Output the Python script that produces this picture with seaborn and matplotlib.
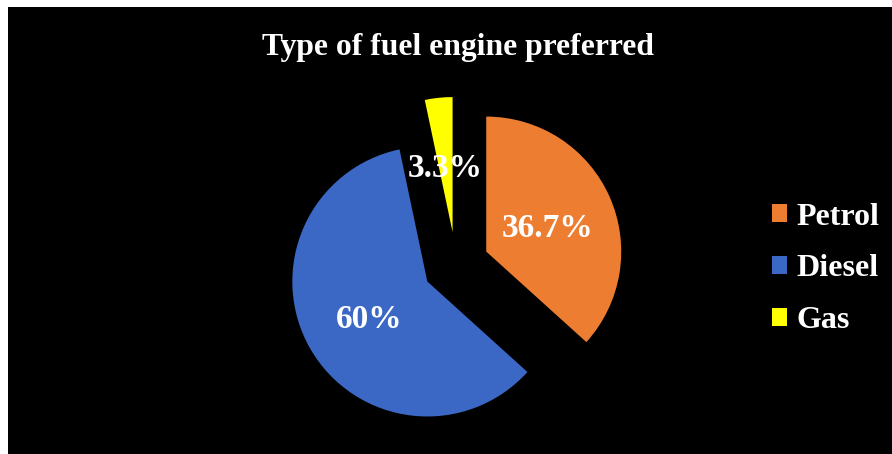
import matplotlib
matplotlib.use("Agg")
import matplotlib.pyplot as plt
from matplotlib.patches import Rectangle, Patch
from matplotlib.transforms import offset_copy
import seaborn as sns

categories = ["Petrol", "Diesel", "Gas"]
values = [36.7, 60, 3.3]
pct_labels = ["36.7%", "60%", "3.3%"]
title = "Type of fuel engine preferred"
colors = ["#ED7D31", "#3A68C4", "#FFFF00"]

sns.set_theme(style="white")
plt.rcParams["font.family"] = ["Liberation Serif", "DejaVu Serif"]

W, H = 892, 454
fig = plt.figure(figsize=(W / 100, H / 100), dpi=100)
fig.patch.set_facecolor("white")
bg = Rectangle((8 / W, 0), (W - 8) / W, (H - 7) / H,
               transform=fig.transFigure, facecolor="black",
               edgecolor="none", zorder=-10)
fig.patches.append(bg)

cx, cy, r = 456, 265, 135
half = r * 1.5
ax = fig.add_axes([(cx - half) / W, (H - cy - half) / H, 2 * half / W, 2 * half / H])
ax.set_facecolor("none")
ax.set_zorder(5)

wedges, texts, autotexts = ax.pie(
    values, colors=colors, startangle=90, counterclock=False,
    explode=[0.245] * len(values), radius=1.0,
    autopct="%1.1f%%", pctdistance=0.5,
    wedgeprops=dict(edgecolor="none", linewidth=0),
)
shift = offset_copy(ax.transData, fig=fig, x=0, y=-4, units="dots")
for t, lab in zip(autotexts, pct_labels):
    t.set_text(lab)
    t.set_color("white")
    t.set_fontsize(24)
    t.set_fontweight("bold")
    t.set_transform(shift)
ax.set_xlim(-1.5, 1.5)
ax.set_ylim(-1.5, 1.5)
ax.set_aspect("equal")
ax.axis("off")

fig.text(458 / W, 1 - 47 / H, title, ha="center", va="center",
         color="white", fontsize=22.8, fontweight="bold", zorder=6)

handles = [Patch(facecolor=c, edgecolor="none", label=l) for c, l in zip(colors, categories)]
leg = fig.legend(handles=handles, loc="center left",
                 bbox_to_anchor=(743 / W, 1 - 269 / H), frameon=False,
                 handlelength=0.47, handleheight=0.47, handletextpad=0.31,
                 labelspacing=0.72, prop=dict(family="Liberation Serif", weight="bold", size=23))
leg.set_zorder(6)
for t in leg.get_texts():
    t.set_color("white")

fig.savefig("out.png", dpi=100, facecolor=fig.get_facecolor())
